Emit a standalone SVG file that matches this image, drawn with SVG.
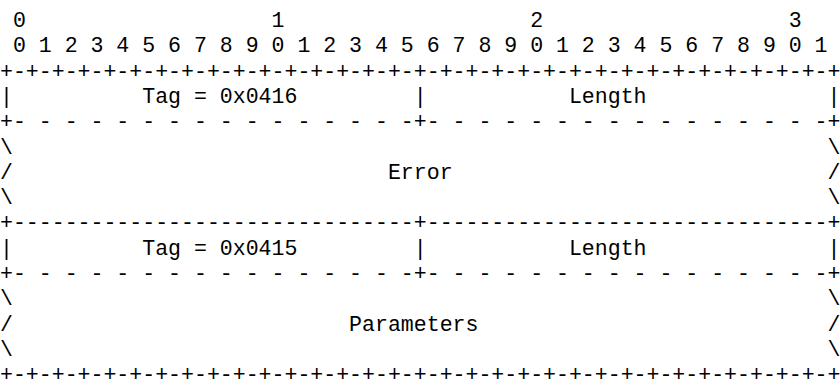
<svg xmlns="http://www.w3.org/2000/svg" width="840" height="384" viewBox="0 0 840 384">
<style>
text{font-family:"Liberation Mono","DejaVu Sans Mono",monospace;font-size:21.56px;fill:#000;white-space:pre}
</style>
<rect width="840" height="384" fill="#fff"/>
<g id="ruler">
<text x="0" y="27" xml:space="preserve"> 0                   1                   2                   3</text>
<text x="0" y="52.3" xml:space="preserve"> 0 1 2 3 4 5 6 7 8 9 0 1 2 3 4 5 6 7 8 9 0 1 2 3 4 5 6 7 8 9 0 1</text>
</g>
<g id="error-tlv">
<text x="0" y="77.6" xml:space="preserve">+-+-+-+-+-+-+-+-+-+-+-+-+-+-+-+-+-+-+-+-+-+-+-+-+-+-+-+-+-+-+-+-+</text>
<text x="0" y="102.9" xml:space="preserve">|          Tag = 0x0416         |           Length              |</text>
<text x="0" y="128.2" xml:space="preserve">+- - - - - - - - - - - - - - - -+- - - - - - - - - - - - - - - -+</text>
<text x="0" y="153.5" xml:space="preserve">\                                                               \</text>
<text x="0" y="178.8" xml:space="preserve">/                             Error                             /</text>
<text x="0" y="204.1" xml:space="preserve">\                                                               \</text>
</g>
<g id="parameters-tlv">
<text x="0" y="229.4" xml:space="preserve">+-------------------------------+-------------------------------+</text>
<text x="0" y="254.7" xml:space="preserve">|          Tag = 0x0415         |           Length              |</text>
<text x="0" y="280" xml:space="preserve">+- - - - - - - - - - - - - - - -+- - - - - - - - - - - - - - - -+</text>
<text x="0" y="305.3" xml:space="preserve">\                                                               \</text>
<text x="0" y="330.6" xml:space="preserve">/                          Parameters                           /</text>
<text x="0" y="355.9" xml:space="preserve">\                                                               \</text>
<text x="0" y="381.2" xml:space="preserve">+-+-+-+-+-+-+-+-+-+-+-+-+-+-+-+-+-+-+-+-+-+-+-+-+-+-+-+-+-+-+-+-+</text>
</g>
</svg>
